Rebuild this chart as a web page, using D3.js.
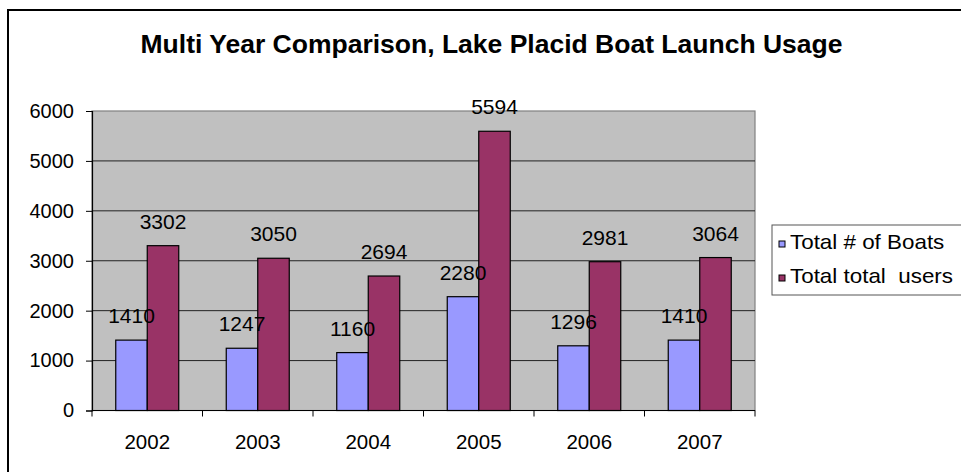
<!DOCTYPE html>
<html>
<head>
<meta charset="utf-8">
<script src="https://cdn.jsdelivr.net/npm/d3@7"></script>
<style>
  html, body { margin: 0; padding: 0; background: #fff; }
  svg { display: block; font-family: "Liberation Sans", Arial, sans-serif; }
</style>
</head>
<body>
<svg id="chart" width="961" height="472"></svg>
<script>
// Boat launch usage per year
const years = ["2002", "2003", "2004", "2005", "2006", "2007"];
const seriesNames = ["Total # of Boats", "Total total  users"];
const boats = [1410, 1247, 1160, 2280, 1296, 1410];
const users = [3302, 3050, 2694, 5594, 2981, 3064];
const yTicks = [0, 1000, 2000, 3000, 4000, 5000, 6000];
const colors = ["#9999FF", "#993366"];

const svg = d3.select("#chart");

// outer chart frame (runs past the right and bottom edges)
svg.append("rect")
  .attr("x", 8).attr("y", 10)
  .attr("width", 975).attr("height", 480)
  .attr("fill", "#fff").attr("stroke", "#000").attr("stroke-width", 2);

// title
svg.append("text")
  .attr("x", 491.5).attr("y", 53)
  .attr("text-anchor", "middle")
  .attr("font-size", "26.5px").attr("font-weight", "bold")
  .text("Multi Year Comparison, Lake Placid Boat Launch Usage");

const plot = { left: 92, right: 755, top: 111, bottom: 410.5 };

const x = d3.scaleBand().domain(years).range([plot.left, plot.right]).padding(0);
const xs = d3.scaleBand().domain(d3.range(seriesNames.length))
  .range([0, x.bandwidth()]).paddingInner(0).paddingOuter(0.754);
const y = d3.scaleLinear().domain([0, 6000]).range([plot.bottom, plot.top]);

// plot background
svg.append("rect")
  .attr("x", plot.left).attr("y", plot.top)
  .attr("width", plot.right - plot.left).attr("height", plot.bottom - plot.top)
  .attr("fill", "#C0C0C0").attr("stroke", "#808080").attr("stroke-width", 1.2);

// horizontal grid lines
svg.append("g").selectAll("line")
  .data(yTicks.filter(t => t > 0 && t < 6000))
  .join("line")
  .attr("x1", plot.left).attr("x2", plot.right)
  .attr("y1", d => y(d)).attr("y2", d => y(d))
  .attr("stroke", "#222").attr("stroke-width", 1);

// bars
const rows = years.map((yr, i) => ({ year: yr, values: [boats[i], users[i]] }));
const groups = svg.append("g").selectAll("g")
  .data(rows).join("g")
  .attr("transform", d => `translate(${x(d.year)},0)`);

groups.selectAll("rect")
  .data(d => d.values.map((v, s) => ({ v, s })))
  .join("rect")
  .attr("x", d => xs(d.s))
  .attr("y", d => y(d.v))
  .attr("width", xs.bandwidth())
  .attr("height", d => y(0) - y(d.v))
  .attr("fill", d => colors[d.s])
  .attr("stroke", "#000").attr("stroke-width", 1.2);

// value labels
groups.selectAll("text")
  .data(d => d.values.map((v, s) => ({ v, s })))
  .join("text")
  .attr("x", d => xs(d.s) + xs.bandwidth() / 2)
  .attr("y", d => y(d.v) - 17)
  .attr("text-anchor", "middle")
  .attr("font-size", "21px")
  .text(d => d.v);

// y axis
const yAxis = svg.append("g")
  .attr("transform", `translate(${plot.left},0)`)
  .call(d3.axisLeft(y).tickValues(yTicks).tickSize(6).tickPadding(12).tickFormat(d3.format("d")));
yAxis.select(".domain").attr("stroke", "#000").attr("stroke-width", 1.2);
yAxis.selectAll(".tick line").attr("stroke", "#000");
yAxis.selectAll(".tick text").attr("font-size", "20px").attr("fill", "#000")
  .attr("font-family", "Liberation Sans, Arial, sans-serif");

// x axis with ticks at category boundaries
const xAxisG = svg.append("g").attr("transform", `translate(0,${plot.bottom})`);
xAxisG.append("line")
  .attr("x1", plot.left).attr("x2", plot.right)
  .attr("stroke", "#000").attr("stroke-width", 1.2);
xAxisG.selectAll("line.tk")
  .data(years.concat(["end"]))
  .join("line").attr("class", "tk")
  .attr("x1", (d, i) => plot.left + i * x.step())
  .attr("x2", (d, i) => plot.left + i * x.step())
  .attr("y1", 0).attr("y2", 6)
  .attr("stroke", "#000");
xAxisG.selectAll("text")
  .data(years).join("text")
  .attr("x", d => x(d) + x.bandwidth() / 2)
  .attr("y", 38)
  .attr("text-anchor", "middle")
  .attr("font-size", "20.5px")
  .text(d => d);

// legend
const legend = svg.append("g");
legend.append("rect")
  .attr("x", 772).attr("y", 225)
  .attr("width", 220).attr("height", 70)
  .attr("fill", "#fff").attr("stroke", "#555").attr("stroke-width", 1);
const li = legend.selectAll("g.item")
  .data(seriesNames).join("g").attr("class", "item")
  .attr("transform", (d, i) => `translate(779,${241 + i * 34})`);
li.append("rect")
  .attr("x", 0).attr("y", 0)
  .attr("width", 6).attr("height", 6)
  .attr("fill", (d, i) => colors[i]).attr("stroke", "#000").attr("stroke-width", 1);
li.append("text")
  .attr("transform", "translate(11,8) scale(1.12,1)")
  .attr("font-size", "20px")
  .attr("xml:space", "preserve")
  .style("white-space", "pre")
  .text(d => d);
</script>
</body>
</html>
